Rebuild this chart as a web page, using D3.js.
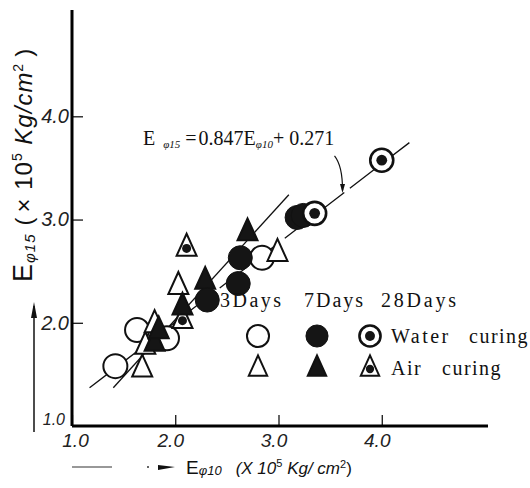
<!DOCTYPE html>
<html>
<head>
<meta charset="utf-8">
<script src="https://cdn.jsdelivr.net/npm/d3@7"></script>
<style>
  body { margin: 0; background: #fff; }
  svg { display: block; }
</style>
</head>
<body>
<div id="vis"></div>
<script>
// set constants
const FRAME_WIDTH = 530;
const FRAME_HEIGHT = 488;

// data (x = E phi10, y = E phi15, x10^5 kg/cm2)
const WATER_3D = [[1.42, 1.58], [1.63, 1.93], [1.92, 1.85], [2.84, 2.63]];
const WATER_7D = [[2.31, 2.22], [2.61, 2.38], [2.63, 2.63], [3.18, 3.02], [3.24, 3.04]];
const WATER_28D = [[4.00, 3.575], [3.35, 3.06]];
const AIR_3D = [[1.68, 1.56], [1.71, 1.78], [1.80, 1.99], [2.03, 2.36], [2.99, 2.68]];
const AIR_7D = [[1.80, 1.81], [1.84, 1.93], [2.07, 2.16], [2.29, 2.41], [2.70, 2.88]];
const AIR_28D = [[2.11, 2.73], [2.07, 2.03]];

// fitted line as drawn, and the steeper line
const FIT_LINE = [[1.17, 1.37], [4.30, 3.77]];
const STEEP_LINE = [[1.40, 1.37], [3.10, 3.24]];

const X_TICKS = [1, 2, 3, 4];
const Y_TICKS = [2, 3, 4];

const X_SCALE = d3.scaleLinear().domain([1, 5]).range([72, 485]);
const Y_SCALE = d3.scaleLinear().domain([1, 5.03]).range([426, 10]);

const FRAME = d3.select("#vis")
  .append("svg")
    .attr("width", FRAME_WIDTH)
    .attr("height", FRAME_HEIGHT);

const SERIF = "'Liberation Serif', 'DejaVu Serif', serif";
const SANS = "'Liberation Sans', Arial, sans-serif";

// lines under the markers
const line = d3.line().x(d => X_SCALE(d[0])).y(d => Y_SCALE(d[1]));
FRAME.append("path")
  .attr("d", line(FIT_LINE))
  .attr("stroke", "#111").attr("stroke-width", 1.3).attr("fill", "none")
  .attr("stroke-dasharray", "34,7");
FRAME.append("path")
  .attr("d", line(STEEP_LINE))
  .attr("stroke", "#111").attr("stroke-width", 1.3).attr("fill", "none");

// axes
const xAxis = FRAME.append("g")
  .attr("transform", "translate(0," + Y_SCALE(1) + ")")
  .call(d3.axisBottom(X_SCALE).tickValues(X_TICKS).tickSizeInner(-11).tickSizeOuter(0)
    .tickFormat(d3.format(".1f")));
xAxis.select(".domain").attr("stroke-width", 3).attr("d", "M" + X_SCALE(1) + ",0H488");
xAxis.selectAll(".tick line").attr("stroke-width", 1.2);
xAxis.selectAll(".tick text")
  .attr("font-family", SANS).attr("font-style", "italic").attr("font-size", 19)
  .attr("dy", "0.95em").attr("dx", d => d === 1 ? 3 : -5).attr("fill", "#222");

const yAxis = FRAME.append("g")
  .attr("transform", "translate(" + X_SCALE(1) + ",0)")
  .call(d3.axisLeft(Y_SCALE).tickValues(Y_TICKS).tickSizeInner(-11).tickSizeOuter(0)
    .tickFormat(d3.format(".1f")));
yAxis.select(".domain").attr("stroke-width", 3).attr("d", "M0,10V" + Y_SCALE(1));
yAxis.selectAll(".tick text")
  .attr("font-family", SANS).attr("font-style", "italic").attr("font-size", 20)
  .attr("x", -3).attr("fill", "#222");
yAxis.selectAll(".tick line").attr("stroke-width", 1.2);

// little "1.0" at the corner
FRAME.append("text")
  .attr("x", X_SCALE(1) - 7).attr("y", Y_SCALE(1) - 1)
  .attr("text-anchor", "end")
  .attr("font-family", SANS).attr("font-style", "italic").attr("font-size", 16)
  .attr("fill", "#222")
  .text("1.0");

// marker helpers
const R = 12;
function tri(g, cx, cy, s, fill) {
  const h = s * 1.1;
  g.append("path")
    .attr("d", `M${cx},${cy - h * 0.62}L${cx + s / 2},${cy + h * 0.38}L${cx - s / 2},${cy + h * 0.38}Z`)
    .attr("fill", fill).attr("stroke", "#111").attr("stroke-width", 2).attr("stroke-linejoin", "miter");
}
function drawMarker(g, type, cx, cy, scale) {
  const r = R * scale;
  if (type === "w3") {
    g.append("circle").attr("cx", cx).attr("cy", cy).attr("r", r)
      .attr("fill", "#fff").attr("stroke", "#111").attr("stroke-width", 2);
  } else if (type === "w7") {
    g.append("circle").attr("cx", cx).attr("cy", cy).attr("r", r)
      .attr("fill", "#151515").attr("stroke", "#111").attr("stroke-width", 1);
  } else if (type === "w28") {
    g.append("circle").attr("cx", cx).attr("cy", cy).attr("r", r - 0.5)
      .attr("fill", "#fff").attr("stroke", "#111").attr("stroke-width", 2.6);
    g.append("circle").attr("cx", cx).attr("cy", cy).attr("r", r * 0.45)
      .attr("fill", "#151515");
  } else if (type === "a3") {
    tri(g, cx, cy, 20 * scale, "#fff");
  } else if (type === "a7") {
    tri(g, cx, cy, 20 * scale, "#151515");
  } else if (type === "a28") {
    tri(g, cx, cy, 20 * scale, "#fff");
    g.append("circle").attr("cx", cx).attr("cy", cy + 1).attr("r", 4.5 * scale)
      .attr("fill", "#151515");
  }
}

const SERIES = [
  ["w3", WATER_3D], ["a3", AIR_3D], ["a28", AIR_28D],
  ["a7", AIR_7D], ["w7", WATER_7D], ["w28", WATER_28D]
];
const marks = FRAME.append("g");
SERIES.forEach(([type, pts]) => {
  pts.forEach(d => drawMarker(marks, type, X_SCALE(d[0]), Y_SCALE(d[1]), 1));
});

// equation and its pointer
const eq = FRAME.append("text")
  .attr("x", 143).attr("y", 145)
  .attr("font-family", SERIF).attr("font-size", 20).attr("fill", "#111");
eq.append("tspan").text("E");
eq.append("tspan").attr("font-size", 11).attr("font-style", "italic").attr("dx", 8).attr("dy", 3).text("\u03c615");
eq.append("tspan").attr("dx", 5).attr("dy", -3).text("=");
eq.append("tspan").attr("dx", 2).text("0.847E");
eq.append("tspan").attr("font-size", 11).attr("font-style", "italic").attr("dy", 3).text("\u03c610");
eq.append("tspan").attr("dy", -3).text("+");
eq.append("tspan").attr("dx", 5).text("0.271");

const px = 3.62;
const tx = X_SCALE(px);
const ty = d3.scaleLinear().domain([FIT_LINE[0][0], FIT_LINE[1][0]])
  .range([Y_SCALE(FIT_LINE[0][1]), Y_SCALE(FIT_LINE[1][1])])(px);
FRAME.append("path")
  .attr("d", `M${tx - 8},${ty - 38}Q${tx},${ty - 28} ${tx},${ty - 4}`)
  .attr("fill", "none").attr("stroke", "#111").attr("stroke-width", 1.2);
FRAME.append("path")
  .attr("d", `M${tx - 2.5},${ty - 10}L${tx + 2.5},${ty - 10}L${tx},${ty - 1}Z`)
  .attr("fill", "#111");

// legend
const LEG_X = [258, 317, 370];
const LEG_HEAD = [["3Days", 220, 2.5], ["7Days", 304, 2], ["28Days", 381, 2.8]];
LEG_HEAD.forEach(([t, x, ls]) => {
  FRAME.append("text")
    .attr("x", x).attr("y", 307)
    .attr("font-family", SERIF).attr("font-size", 20).attr("letter-spacing", ls)
    .attr("fill", "#111")
    .text(t);
});
const legRows = [
  {y: 336, types: ["w3", "w7", "w28"], words: [["Water", 391], ["curing", 469]]},
  {y: 368, types: ["a3", "a7", "a28"], words: [["Air", 391], ["curing", 442]]}
];
legRows.forEach(row => {
  row.types.forEach((t, i) => drawMarker(FRAME, t, LEG_X[i], row.y, 0.92));
  row.words.forEach(([w, x]) => {
    FRAME.append("text")
      .attr("x", x).attr("y", row.y + 7)
      .attr("font-family", SERIF).attr("font-size", 20)
      .attr("letter-spacing", w === "Water" ? 2.5 : 1.5)
      .attr("fill", "#111")
      .text(w);
  });
});

// y axis title
const yt = FRAME.append("text")
  .attr("transform", "translate(32,282) rotate(-90)")
  .attr("font-family", SANS).attr("font-size", 27).attr("fill", "#111")
  .attr("letter-spacing", 1);
yt.append("tspan").text("E");
yt.append("tspan").attr("font-size", 15).attr("font-style", "italic").attr("dy", 3).text("\u03c615");
yt.append("tspan").attr("dy", -3).attr("dx", 8).attr("font-size", 24).text("(");
yt.append("tspan").attr("dx", 4).attr("font-size", 24).text("\u00d7 10");
yt.append("tspan").attr("font-size", 14).attr("dy", -10).text("5");
yt.append("tspan").attr("font-size", 24).attr("font-style", "italic").attr("dy", 10).text(" Kg/cm");
yt.append("tspan").attr("font-size", 14).attr("dy", -9).text("2");
yt.append("tspan").attr("font-size", 24).attr("dy", 9).attr("dx", 6).text(")");

// y arrow
FRAME.append("line").attr("x1", 34).attr("x2", 34).attr("y1", 432).attr("y2", 306)
  .attr("stroke", "#111").attr("stroke-width", 1.5);
FRAME.append("path").attr("d", "M31,318L34,302L37,318Z").attr("fill", "#111");

// x axis title and arrow
FRAME.append("line").attr("x1", 72).attr("x2", 112).attr("y1", 467).attr("y2", 467)
  .attr("stroke", "#333").attr("stroke-width", 1.2);
FRAME.append("circle").attr("cx", 148).attr("cy", 467).attr("r", 1).attr("fill", "#333");
FRAME.append("path").attr("d", "M158,465L175,467L158,470Z").attr("fill", "#111");
const xt = FRAME.append("text")
  .attr("x", 186).attr("y", 474)
  .attr("font-family", SANS).attr("font-size", 19).attr("fill", "#111");
xt.append("tspan").text("E");
xt.append("tspan").attr("font-size", 13).attr("font-style", "italic").attr("dy", 1).text("\u03c610");
xt.append("tspan").attr("dx", 14).attr("dy", -1).attr("font-style", "italic").attr("font-size", 17).text("(X 10");
xt.append("tspan").attr("font-size", 11).attr("dy", -7).text("5");
xt.append("tspan").attr("font-size", 17).attr("font-style", "italic").attr("dy", 7).text(" Kg/ cm");
xt.append("tspan").attr("font-size", 11).attr("dy", -6).text("2");
xt.append("tspan").attr("font-size", 17).attr("dy", 6).text(")");
</script>
</body>
</html>
